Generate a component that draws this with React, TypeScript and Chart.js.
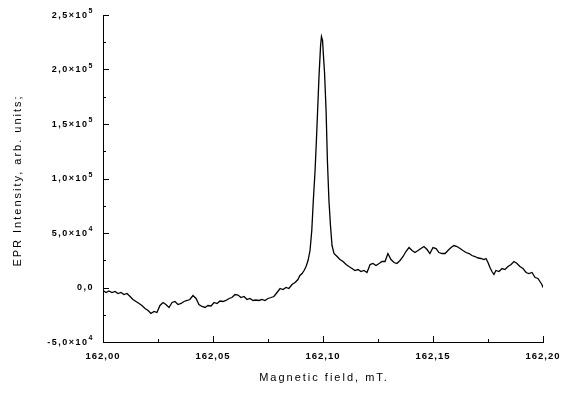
import React, { useEffect, useRef } from 'react';
import { Chart, registerables } from 'chart.js';

Chart.register(...registerables);

// Magnetic field, mT
const fieldMT = [
  162.0, 162.0014, 162.0027, 162.0041, 162.0055, 162.0068, 162.0082, 162.0095, 162.0109, 162.0123,
  162.0136, 162.015, 162.0164, 162.0177, 162.0191, 162.0205, 162.0218, 162.0232, 162.0245, 162.0259,
  162.0273, 162.0286, 162.03, 162.0314, 162.0327, 162.0341, 162.0355, 162.0368, 162.0382, 162.0395,
  162.0409, 162.0423, 162.0436, 162.045, 162.0464, 162.0477, 162.0491, 162.0505, 162.0518, 162.0532,
  162.0545, 162.0559, 162.0573, 162.0586, 162.06, 162.0614, 162.0627, 162.0641, 162.0655, 162.0668,
  162.0682, 162.0695, 162.0709, 162.0723, 162.0736, 162.075, 162.0764, 162.0777, 162.0791, 162.0805,
  162.0818, 162.0832, 162.0845, 162.0859, 162.0873, 162.0886, 162.0895, 162.0905, 162.0914, 162.0923,
  162.0932, 162.0941, 162.0949, 162.0956, 162.0964, 162.097, 162.0975, 162.0982, 162.0989, 162.0993,
  162.0998, 162.1002, 162.1007, 162.1014, 162.102, 162.1027, 162.1034, 162.1041, 162.105, 162.1064,
  162.1077, 162.1091, 162.1105, 162.1118, 162.1132, 162.1145, 162.1159, 162.1173, 162.1186, 162.12,
  162.1214, 162.1227, 162.1241, 162.1255, 162.1268, 162.1282, 162.1295, 162.1309, 162.1323, 162.1336,
  162.135, 162.1364, 162.1377, 162.1391, 162.1405, 162.1418, 162.1432, 162.1445, 162.1459, 162.1473,
  162.1486, 162.15, 162.1514, 162.1527, 162.1541, 162.1555, 162.1568, 162.1582, 162.1595, 162.1609,
  162.1623, 162.1636, 162.165, 162.1664, 162.1677, 162.1691, 162.1705, 162.1718, 162.1732, 162.1741,
  162.175, 162.1759, 162.1768, 162.1777, 162.1786, 162.18, 162.1814, 162.1827, 162.1841, 162.1855,
  162.1868, 162.1882, 162.1895, 162.1909, 162.1923, 162.1936, 162.195, 162.1964, 162.1977, 162.1986,
  162.1995, 162.2,
];

// EPR intensity, arb. units
const intensity = [
  -2750, -4590, -3200, -4590, -3670, -5500, -4590, -6420, -5500, -8250,
  -11000, -12840, -14670, -16500, -19260, -21090, -23840, -22010, -22930, -16500,
  -13760, -15590, -18340, -13760, -12840, -15590, -14670, -12840, -11920, -11000,
  -7340, -10090, -15590, -17420, -18340, -16500, -16970, -13760, -14670, -12380,
  -12840, -11920, -10090, -9170, -6420, -6880, -9170, -8250, -11000, -10090,
  -11920, -11460, -11920, -11000, -11920, -10090, -9170, -8250, -4590, -920,
  -1830, 0, -920, 2750, 4590, 7340, 11000, 12840, 15590, 19260,
  24760, 33930, 52270, 79780, 107300, 134800, 159560, 194400, 221900, 230200,
  226500, 212700, 197200, 162300, 116460, 79780, 56850, 38510, 31180, 28430,
  25680, 23840, 21090, 19260, 17420, 15590, 16500, 14670, 15590, 13760,
  21090, 22010, 20180, 22010, 23840, 23840, 31180, 25680, 22930, 22010,
  24760, 28430, 33020, 36680, 33930, 32100, 33930, 35760, 37600, 34850,
  31180, 36680, 35760, 32100, 31180, 31180, 33930, 36680, 38510, 37600,
  35760, 33930, 32100, 31180, 29350, 28430, 27050, 26600, 25680, 26600,
  22930, 18340, 14670, 11920, 15590, 14670, 17420, 16500, 19260, 21090,
  23840, 22010, 19260, 17420, 13760, 12840, 13760, 9170, 8250, 5500,
  2750, 0,
];

const xTickLabels = ['162,00', '162,05', '162,10', '162,15', '162,20'];
// y tick labels: mantissa and power-of-ten exponent ('' = plain)
const yTickMantissas = ['-5,0', '0,0', '5,0', '1,0', '1,5', '2,0', '2,5'];
const yTickExponents = ['4', '', '4', '5', '5', '5', '5'];
const xTitle = 'Magnetic field, mT.';
const yTitle = 'EPR Intensity, arb. units;';

const xMin = 162.0;
const xMax = 162.2;
const yMin = -50000;
const yMax = 250000;

const FONT_FAMILY = '"Liberation Sans", Arial, sans-serif';

const axesPlugin = {
  id: 'inwardTicksAndTitles',
  beforeDraw(chart: any) {
    (chart.ctx as any).letterSpacing = '1px';
  },
  afterDraw(chart: any) {
    const { ctx, chartArea, scales } = chart;
    const xs = scales.x;
    const ys = scales.y;
    ctx.save();
    ctx.strokeStyle = '#000';
    ctx.lineWidth = 1;
    ctx.beginPath();
    const xSteps = 8;
    for (let i = 0; i <= xSteps; i++) {
      const v = xMin + ((xMax - xMin) * i) / xSteps;
      const px = Math.round(xs.getPixelForValue(v)) + 0.5;
      const len = i % 2 === 0 ? 6 : 3;
      ctx.moveTo(px, chartArea.bottom);
      ctx.lineTo(px, chartArea.bottom - len);
    }
    const ySteps = 12;
    for (let i = 0; i <= ySteps; i++) {
      const v = yMin + ((yMax - yMin) * i) / ySteps;
      const py = Math.round(ys.getPixelForValue(v)) + 0.5;
      const len = i % 2 === 0 ? 6 : 3;
      ctx.moveTo(chartArea.left, py);
      ctx.lineTo(chartArea.left + len, py);
    }
    ctx.stroke();

    // y tick labels with superscript exponents
    ctx.fillStyle = '#000';
    ctx.textAlign = 'right';
    ctx.textBaseline = 'middle';
    (ctx as any).letterSpacing = '1.5px';
    const rightX = chartArea.left - 9;
    yTickMantissas.forEach((m, i) => {
      const v = yMin + ((yMax - yMin) * i) / (yTickMantissas.length - 1);
      const py = ys.getPixelForValue(v) + 0.5;
      const exp = yTickExponents[i];
      let x = rightX;
      if (exp) {
        ctx.font = `bold 7px ${FONT_FAMILY}`;
        ctx.fillText(exp, x, py - 4);
        x -= ctx.measureText(exp).width;
        ctx.font = `bold 9px ${FONT_FAMILY}`;
        ctx.fillText(m + '×10', x, py);
      } else {
        ctx.font = `bold 9px ${FONT_FAMILY}`;
        ctx.fillText(m, x, py);
      }
    });

    (ctx as any).letterSpacing = '2px';
    ctx.font = `11px ${FONT_FAMILY}`;
    ctx.textAlign = 'center';
    ctx.textBaseline = 'middle';
    ctx.fillText(xTitle, (chartArea.left + chartArea.right) / 2 + 1, chartArea.bottom + 36);
    ctx.translate(18, (chartArea.top + chartArea.bottom) / 2 + 2);
    ctx.rotate(-Math.PI / 2);
    ctx.fillText(yTitle, 0, 0);
    ctx.restore();
  },
};

export default function App() {
  const canvasRef = useRef<HTMLCanvasElement | null>(null);

  useEffect(() => {
    document.body.style.margin = '0';
    const canvas = canvasRef.current;
    if (!canvas) return;
    const points = fieldMT.map((x, i) => ({ x, y: intensity[i] }));
    const tickFont = { family: FONT_FAMILY, size: 9.5, weight: 'bold' as const };
    const chart = new Chart(canvas, {
      type: 'line',
      data: {
        datasets: [
          {
            data: points,
            borderColor: '#000',
            borderWidth: 1.3,
            pointRadius: 0,
            tension: 0,
            fill: false,
          },
        ],
      },
      options: {
        responsive: false,
        animation: false,
        devicePixelRatio: 1,
        layout: { padding: { top: 15, right: 19, left: 0, bottom: 0 } },
        plugins: {
          legend: { display: false },
          tooltip: { enabled: false },
        },
        scales: {
          x: {
            type: 'linear',
            min: xMin,
            max: xMax,
            afterFit: (s: any) => {
              s.height = 52;
              s.paddingLeft = 0;
              s.paddingRight = 0;
            },
            afterBuildTicks: (s: any) => {
              s.ticks = xTickLabels.map((_, i) => ({ value: xMin + ((xMax - xMin) * i) / (xTickLabels.length - 1) }));
            },
            ticks: {
              color: '#000',
              font: tickFont,
              padding: 9,
              maxRotation: 0,
              autoSkip: false,
              callback: (_v: any, i: number) => xTickLabels[i],
            },
            grid: { display: false, drawTicks: false },
            border: { display: true, color: '#000', width: 1 },
          },
          y: {
            type: 'linear',
            min: yMin,
            max: yMax,
            afterFit: (s: any) => {
              s.width = 103;
              s.paddingTop = 0;
              s.paddingBottom = 0;
            },
            ticks: {
              display: false,
              stepSize: 50000,
            },
            grid: { display: false, drawTicks: false },
            border: { display: true, color: '#000', width: 1 },
          },
        },
      },
      plugins: [axesPlugin],
    });
    return () => chart.destroy();
  }, []);

  return (
    <div style={{ position: 'absolute', left: 0, top: 0, width: 562, height: 394, background: '#fff' }}>
      <canvas ref={canvasRef} width={562} height={394} style={{ width: 562, height: 394, display: 'block' }} />
    </div>
  );
}
